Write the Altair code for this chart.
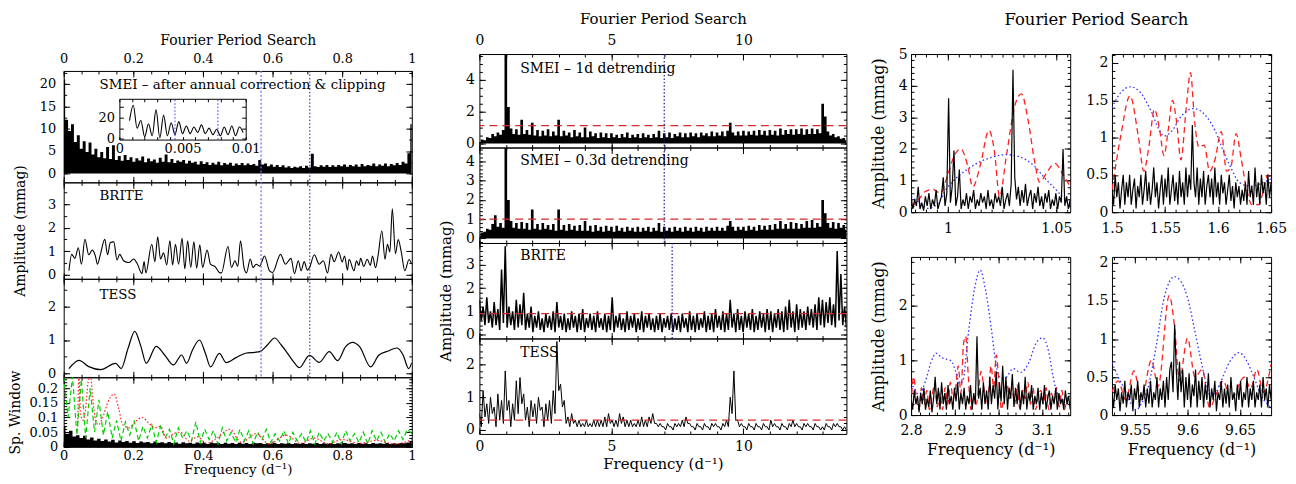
import altair as alt
import numpy as np
import pandas as pd

FONT = "DejaVu Serif"

# ======================= DATA =======================
# ---- left column (0-1 d^-1) ----
L_SMEI = [21, 12, 9.5, 11, 7, 8.5, 5.5, 7.2, 4.8, 6.9,
          4.2, 5.5, 3.6, 4.8, 3.4, 5.9, 3.2, 6.3, 3.0, 3.9,
          2.8, 4.1, 3.0, 3.6, 2.6, 3.4, 2.9, 3.8, 2.5, 3.3,
          2.7, 3.1, 2.4, 3.5, 2.6, 4.2, 2.5, 3.2, 2.3, 2.9,
          2.6, 3.0, 2.2, 2.8, 2.4, 2.6, 2.0, 2.7, 2.1, 2.5,
          1.9, 2.4, 2.0, 2.6, 1.8, 2.3, 2.0, 2.4, 1.7, 2.2,
          1.9, 2.3, 1.8, 2.2, 1.9, 2.1, 1.7, 3.0, 2.0, 2.2,
          1.6, 2.0, 1.5, 1.9, 1.4, 1.8, 1.3, 1.6, 1.2, 1.5,
          1.3, 1.6, 1.2, 1.7, 1.3, 4.4, 1.6, 1.4, 1.8, 1.5,
          1.9, 1.4, 1.8, 1.5, 1.9, 1.6, 2.0, 1.5, 1.9, 1.6,
          2.0, 1.5, 2.1, 1.6, 1.9, 1.7, 2.2, 1.6, 2.0, 1.7,
          2.2, 1.6, 2.1, 1.8, 2.3, 1.9, 2.6, 2.2, 4.5, 11]
INSET_AMP = [17, 31, 10, 17, 2, 14, 3, 27, 1, 22,
             3, 15, 4, 16, 5, 12, 5, 11, 6, 13,
             5, 10, 4, 9, 3, 11, 4, 12, 3, 11, 6]
INSET_LINES = [0.0044, 0.0078]
L_BRITE = [(0.015, 0.17), (0.023, 0.87), (0.032, 0.70), (0.042, 1.15), (0.051, 0.45), (0.061, 1.51),
           (0.072, 0.85), (0.082, 1.05), (0.091, 0.80), (0.097, 0.45), (0.106, 0.90), (0.118, 1.51),
           (0.126, 0.85), (0.134, 1.37), (0.144, 1.40), (0.153, 0.63), (0.161, 0.87), (0.172, 0.60),
           (0.187, 0.52), (0.201, 0.67), (0.211, 0.48), (0.225, 0.05), (0.231, 0.56), (0.236, 0.08),
           (0.253, 1.30), (0.262, 0.56), (0.270, 1.62), (0.278, 0.67), (0.287, 0.93), (0.296, 0.42),
           (0.305, 1.44), (0.313, 0.42), (0.321, 1.30), (0.330, 0.45), (0.340, 1.55), (0.348, 0.25),
           (0.356, 1.44), (0.365, 0.31), (0.374, 1.40), (0.382, 0.28), (0.391, 1.27), (0.399, 0.31),
           (0.412, 1.05), (0.422, 0.44), (0.435, 0.35), (0.447, 0.10), (0.453, 0.08), (0.472, 1.20),
           (0.482, 0.31), (0.492, 0.60), (0.500, 0.35), (0.508, 1.44), (0.518, 0.30), (0.525, 0.08),
           (0.536, 0.67), (0.544, 0.31), (0.553, 0.45), (0.563, 0.37), (0.577, 0.80), (0.591, 0.17),
           (0.600, 0.10), (0.623, 0.87), (0.637, 0.45), (0.653, 0.70), (0.663, 0.05), (0.674, 0.60),
           (0.682, 0.17), (0.691, 0.56), (0.700, 0.20), (0.706, 0.30), (0.720, 0.85), (0.734, 0.45),
           (0.746, 0.60), (0.758, 0.08), (0.768, 0.87), (0.777, 0.56), (0.790, 0.97), (0.800, 0.55),
           (0.807, 0.80), (0.815, 0.20), (0.820, 0.66), (0.834, 0.17), (0.841, 0.60), (0.848, 0.40),
           (0.853, 0.70), (0.862, 0.35), (0.872, 0.66), (0.881, 0.40), (0.887, 0.80), (0.896, 0.30),
           (0.903, 0.80), (0.914, 1.87), (0.923, 0.66), (0.930, 1.30), (0.937, 0.97), (0.944, 2.80),
           (0.953, 0.90), (0.961, 1.50), (0.970, 0.95), (0.980, 0.17), (0.992, 0.65), (1.000, 0.45)]
L_TESS = [(0.015, 0.14), (0.044, 0.39), (0.072, 0.20), (0.106, 0.11), (0.149, 0.30), (0.165, 0.14),
          (0.185, 0.75), (0.204, 1.26), (0.222, 0.80), (0.237, 0.30), (0.266, 0.81), (0.290, 0.55),
          (0.315, 0.25), (0.339, 0.55), (0.353, 0.30), (0.370, 0.70), (0.390, 1.00), (0.407, 0.60),
          (0.422, 0.19), (0.447, 0.60), (0.467, 0.32), (0.495, 0.47), (0.525, 0.61), (0.549, 0.63),
          (0.565, 0.66), (0.585, 0.85), (0.606, 1.06), (0.625, 0.85), (0.639, 0.66), (0.660, 0.35),
          (0.677, 0.17), (0.706, 0.54), (0.734, 0.33), (0.763, 0.65), (0.787, 0.38), (0.810, 0.80),
          (0.830, 0.93), (0.850, 0.80), (0.882, 0.19), (0.905, 0.54), (0.930, 0.66), (0.958, 0.76),
          (0.975, 0.55), (0.991, 0.14), (1.000, 0.32)]
WIN_BLACK = [70, 45, 55, 35, 40, 30, 38, 25, 32, 22,
             28, 20, 25, 18, 24, 15, 22, 17, 20, 14,
             19, 13, 18, 15, 17, 12, 18, 14, 16, 12,
             17, 13, 15, 11, 16, 12, 14, 11, 15, 12,
             14, 10, 15, 12, 13, 10, 14, 11, 13, 10,
             14, 11, 13, 10, 14, 12, 13, 10, 12, 11,
             13, 10, 12, 11, 13, 10, 12, 11, 13, 10,
             12, 11, 13, 10, 12, 11, 13, 10, 12, 11,
             13, 11, 12, 10, 13, 11, 12, 10, 13, 11,
             12, 11, 13, 10, 12, 11, 13, 12, 15, 20]
WIN_GREEN = [240, 100, 240, 40, 230, 30, 200, 50, 160, 40,
             120, 30, 90, 20, 85, 40, 90, 20, 70, 30,
             75, 15, 70, 30, 60, 10, 65, 30, 55, 20,
             85, 15, 60, 25, 55, 10, 65, 20, 50, 15,
             60, 20, 55, 10, 50, 25, 60, 15, 45, 20,
             55, 10, 50, 20, 45, 15, 55, 10, 50, 20,
             45, 15, 50, 10, 55, 20, 45, 15, 50, 10,
             55, 20, 50, 15, 45, 20, 55, 25, 60, 45]
WIN_RED = [(0.040, 0.07), (0.044, 0.24), (0.048, 0.12), (0.055, 0.09), (0.062, 0.12), (0.070, 0.22),
           (0.076, 0.26), (0.083, 0.17), (0.092, 0.09), (0.100, 0.075), (0.112, 0.10), (0.128, 0.155),
           (0.145, 0.18), (0.158, 0.13), (0.170, 0.075), (0.188, 0.065), (0.205, 0.085), (0.226, 0.10),
           (0.245, 0.08), (0.262, 0.065), (0.277, 0.07), (0.296, 0.03), (0.316, 0.045), (0.335, 0.05),
           (0.360, 0.02), (0.385, 0.035), (0.410, 0.012), (0.440, 0.03), (0.477, 0.06), (0.510, 0.015),
           (0.553, 0.045), (0.590, 0.01), (0.639, 0.04), (0.680, 0.012), (0.720, 0.03), (0.760, 0.01),
           (0.800, 0.025), (0.850, 0.012), (0.900, 0.022), (0.950, 0.01), (0.990, 0.02), (1.000, 0.025)]
L_LINES = [0.567, 0.707]

# ---- middle column (0-13.9 d^-1) ----
M_SMEI1 = [0.1, 0.25, 0.2, 0.4, 0.35, 0.6, 0.45, 0.7, 0.55, 0.85,
           5.6, 2.3, 0.95, 0.6, 0.9, 0.55, 1.5, 0.6, 0.85, 0.55,
           1.3, 0.5, 0.85, 0.45, 0.8, 0.5, 0.9, 0.45, 0.75, 0.5,
           1.5, 0.45, 0.8, 0.5, 0.7, 0.4, 0.85, 0.45, 0.7, 0.4,
           1.0, 0.4, 0.75, 0.45, 0.65, 0.35, 0.7, 0.4, 0.65, 0.35,
           0.65, 0.4, 0.55, 0.35, 0.6, 0.4, 0.7, 0.35, 0.55, 0.4,
           0.6, 0.35, 0.65, 0.4, 0.55, 0.35, 0.6, 0.4, 0.8, 0.35,
           0.65, 0.4, 0.7, 0.35, 0.6, 0.45, 0.7, 0.4, 0.65, 0.4,
           0.7, 0.45, 0.65, 0.4, 0.7, 0.5, 0.65, 0.45, 0.75, 0.45,
           0.7, 0.5, 0.75, 0.45, 0.8, 1.3, 0.7, 0.5, 0.75, 0.5,
           0.8, 0.5, 0.75, 0.55, 0.8, 0.5, 0.85, 0.55, 0.8, 0.5,
           0.85, 0.55, 0.8, 0.5, 0.95, 0.55, 0.85, 0.6, 0.9, 0.55,
           0.9, 0.6, 0.95, 0.55, 0.9, 0.6, 0.95, 0.6, 0.9, 0.65,
           2.5, 1.7, 0.75, 0.5, 0.6, 0.4, 0.45, 0.3, 0.35, 0.2]
M_SMEI03 = [0.15, 0.3, 0.35, 0.5, 0.45, 0.75, 1.2, 0.6, 0.8, 0.55,
            4.7, 2.0, 0.9, 0.55, 0.8, 0.5, 0.85, 0.5, 0.8, 0.45,
            1.5, 0.5, 0.75, 0.45, 0.8, 0.5, 0.7, 0.45, 0.75, 0.4,
            1.5, 0.45, 0.7, 0.4, 0.75, 0.45, 0.65, 0.4, 0.7, 0.4,
            0.9, 0.4, 0.65, 0.35, 0.7, 0.4, 0.6, 0.35, 0.65, 0.4,
            0.6, 0.35, 0.65, 0.4, 0.55, 0.35, 0.6, 0.4, 0.55, 0.35,
            0.6, 0.35, 0.55, 0.4, 0.6, 0.35, 0.55, 0.4, 0.8, 0.35,
            0.6, 0.4, 0.55, 0.35, 0.6, 0.4, 0.55, 0.35, 0.6, 0.4,
            0.55, 0.35, 0.6, 0.4, 0.55, 0.35, 0.6, 0.4, 0.55, 0.4,
            0.6, 0.4, 0.55, 0.4, 0.65, 0.9, 0.6, 0.4, 0.6, 0.45,
            0.6, 0.4, 0.65, 0.45, 0.6, 0.4, 0.7, 0.45, 0.65, 0.45,
            0.7, 0.45, 0.75, 0.5, 0.9, 0.5, 0.75, 0.5, 0.85, 0.5,
            0.8, 0.5, 0.75, 0.55, 0.9, 0.55, 0.95, 0.55, 0.8, 0.6,
            2.0, 1.3, 0.8, 0.55, 0.85, 0.5, 0.8, 0.55, 0.7, 0.45]
# BRITE / TESS: upper and lower excursions (tenths of mmag), alternating along frequency
M_BRITE_HI = [15, 12, 16, 10, 14, 11, 28, 38, 12, 10,
              15, 13, 18, 9, 12, 8, 10, 7, 9, 8,
              10, 14, 8, 9, 7, 10, 8, 9, 11, 7,
              9, 8, 10, 7, 9, 8, 16, 8, 9, 7,
              10, 8, 9, 7, 10, 8, 9, 7, 8, 9,
              7, 8, 9, 7, 8, 9, 7, 10, 8, 9,
              7, 10, 8, 9, 11, 8, 10, 9, 15, 9,
              11, 8, 10, 9, 11, 8, 10, 9, 11, 10,
              9, 11, 10, 12, 15, 10, 13, 11, 10, 12,
              11, 13, 16, 15, 14, 16, 13, 36, 26, 12]
M_BRITE_LO = [6, 4, 5, 3, 4, 2, 5, 3, 4, 2,
              3, 4, 2, 3, 1, 3, 2, 1, 3, 2,
              1, 3, 2, 1, 2, 3, 1, 2, 1, 3,
              2, 1, 3, 2, 1, 2, 1, 3, 2, 1,
              2, 3, 1, 2, 1, 3, 2, 1, 2, 1,
              3, 2, 1, 2, 1, 3, 1, 2, 1, 2,
              3, 1, 2, 1, 3, 2, 1, 2, 3, 1,
              2, 1, 3, 2, 1, 2, 3, 1, 2, 1,
              3, 2, 1, 2, 3, 1, 2, 3, 2, 4,
              3, 2, 4, 3, 5, 4, 3, 6, 4, 3]
M_TESS_HI = [5, 12, 8, 10, 7, 11, 9, 18, 9, 8,
             15, 16, 11, 7, 9, 8, 10, 7, 8, 9,
             12, 27, 14, 9, 4, 5, 3, 3, 2, 3,
             2, 3, 3, 3, 4, 5, 3, 3, 5, 4,
             3, 3, 2, 3, 4, 3, 4, 5, 2, 2,
             1, 2, 1, 2, 2, 3, 4, 2, 1, 2,
             1, 2, 1, 2, 2, 1, 2, 3, 10, 18,
             3, 2, 1, 2, 1, 2, 1, 2, 1, 3,
             2, 1, 2, 1, 2, 3, 2, 1, 2, 2,
             1, 2, 1, 1, 2, 1, 2, 2, 1, 1]
M_TESS_LO = [1, 4, 2, 5, 1, 3, 2, 6, 1, 3,
             5, 8, 3, 1, 4, 2, 6, 1, 3, 2,
             5, 12, 7, 2, 1, 2, 1, 1, 1, 1,
             1, 1, 1, 1, 1, 2, 1, 1, 2, 1,
             1, 1, 1, 1, 1, 1, 2, 2, 1, 1,
             0, 1, 0, 1, 1, 1, 2, 1, 0, 1,
             0, 1, 0, 1, 1, 0, 1, 1, 5, 3,
             1, 1, 0, 1, 0, 1, 0, 1, 0, 1,
             1, 0, 1, 0, 1, 1, 1, 0, 1, 1,
             0, 1, 0, 0, 1, 0, 1, 1, 0, 0]
M_LEVELS = [1.12, 1.0, 0.9, 0.3]
M_SMEI_LINE = [7.0]
M_BRITE_LINE = [7.3]

# ---- right column: zooms ----
TL_BLACK = [0.5, 0.1, 0.4, 0.2, 0.8, 0.1, 0.3, 0.05, 0.5, 0.2,
            0.6, 0.1, 0.4, 0.2, 0.7, 0.1, 0.3, 0.5, 1.1, 0.2,
            0.6, 3.6, 0.3, 0.8, 1.95, 0.2, 0.5, 1.35, 0.1, 0.4,
            0.2, 0.6, 0.1, 0.5, 0.3, 0.7, 0.1, 0.4, 0.2, 0.6,
            0.3, 0.5, 0.1, 0.7, 0.2, 0.4, 0.1, 0.6, 0.3, 0.5,
            0.2, 0.8, 0.1, 0.4, 0.6, 0.2, 0.9, 4.5, 1.1, 0.4,
            0.8, 0.2, 0.7, 0.3, 0.9, 0.2, 0.5, 0.7, 0.1, 0.6,
            0.3, 0.8, 0.2, 0.5, 0.1, 0.6, 0.3, 0.7, 0.1, 0.4,
            0.2, 0.6, 0.1, 0.5, 0.3, 2.0, 0.2, 0.5, 0.1, 0.4]
TL_RED = [(0.983, 0.15), (0.9865, 0.4), (0.9895, 0.65), (0.993, 0.72), (0.9965, 0.6), (1.0, 1.2),
          (1.003, 1.8), (1.006, 2.0), (1.009, 1.5), (1.0115, 0.8), (1.015, 1.5), (1.0189, 2.59),
          (1.0215, 1.9), (1.0238, 0.49), (1.027, 1.8), (1.031, 3.4), (1.0339, 3.74), (1.037, 2.9),
          (1.040, 1.6), (1.0423, 0.95), (1.046, 1.3), (1.0493, 1.54), (1.053, 1.2), (1.0564, 0.8)]
TL_BLUE = [(0.983, 0.5), (0.987, 0.3), (0.991, 0.12), (0.995, 0.25), (1.0, 0.8), (1.005, 1.15),
           (1.01, 1.4), (1.015, 1.6), (1.02, 1.73), (1.027, 1.82), (1.033, 1.75), (1.04, 1.45),
           (1.045, 1.05), (1.05, 0.7), (1.0564, 0.2)]
TR_BLACK = [0.3, 0.1, 0.5, 0.2, 0.4, 0.05, 0.3, 0.5, 0.1, 0.4,
            0.2, 0.5, 0.1, 0.3, 0.45, 0.05, 0.35, 0.2, 0.5, 0.1,
            0.3, 0.55, 0.15, 0.4, 0.1, 0.3, 0.6, 0.2, 0.4, 0.05,
            0.3, 0.5, 0.1, 0.45, 0.2, 0.6, 0.1, 0.3, 0.5, 0.15,
            0.4, 0.1, 0.55, 0.2, 0.4, 0.1, 0.6, 0.2, 0.5, 0.3,
            1.17, 0.4, 0.2, 0.6, 0.1, 0.45, 0.2, 0.55, 0.1, 0.35,
            0.5, 0.2, 0.45, 0.1, 0.6, 0.2, 0.4, 0.1, 0.5, 0.25,
            0.4, 0.1, 0.3, 0.5, 0.15, 0.35, 0.05, 0.4, 0.2, 0.35,
            0.1, 0.3, 0.15, 0.4, 0.1, 0.55, 0.2, 0.35, 0.1, 0.6,
            0.2, 0.4, 0.1, 0.5, 0.25, 0.4, 0.1, 0.5, 0.2, 0.4]
TR_RED = [(1.5, 0.3), (1.508, 1.0), (1.517, 1.56), (1.525, 1.0), (1.530, 0.55), (1.535, 0.9),
          (1.54, 1.38), (1.545, 1.1), (1.549, 0.76), (1.553, 1.1), (1.557, 1.5), (1.561, 1.2),
          (1.565, 0.7), (1.57, 1.4), (1.574, 1.87), (1.578, 1.2), (1.582, 0.87), (1.587, 0.9),
          (1.592, 0.55), (1.597, 0.7), (1.603, 1.08), (1.608, 0.55), (1.612, 0.6), (1.617, 1.05),
          (1.622, 0.7), (1.627, 0.3), (1.632, 0.1), (1.638, 0.1), (1.643, 0.3), (1.647, 0.5), (1.65, 0.45)]
TR_BLUE = [(1.5, 1.4), (1.508, 1.6), (1.5176, 1.68), (1.527, 1.6), (1.537, 1.35), (1.544, 1.12),
           (1.549, 1.02), (1.556, 1.08), (1.565, 1.28), (1.577, 1.39), (1.588, 1.3), (1.597, 1.1),
           (1.605, 0.82), (1.612, 0.6), (1.62, 0.4), (1.63, 0.35), (1.64, 0.38), (1.65, 0.45)]
BL_BLACK = [0.3, 0.1, 0.45, 0.2, 0.35, 0.05, 0.4, 0.2, 0.5, 0.1,
            0.3, 0.15, 0.45, 0.05, 0.3, 0.7, 0.2, 0.5, 0.1, 0.6,
            0.2, 0.4, 0.1, 0.55, 0.2, 0.35, 0.1, 0.5, 0.25, 0.6,
            0.1, 0.4, 0.2, 0.5, 0.1, 0.35, 0.2, 0.55, 0.1, 0.4,
            0.2, 1.44, 0.3, 0.5, 0.1, 0.6, 0.2, 0.45, 0.1, 0.7,
            0.2, 0.55, 0.3, 0.8, 0.1, 0.6, 0.25, 0.9, 0.2, 0.7,
            0.1, 0.5, 0.3, 0.75, 0.15, 0.5, 0.2, 0.6, 0.1, 0.45,
            0.2, 0.7, 0.1, 0.4, 0.25, 0.55, 0.1, 0.35, 0.2, 0.5,
            0.1, 0.4, 0.2, 0.55, 0.1, 0.3, 0.45, 0.1, 0.35, 0.2,
            0.5, 0.1, 0.4, 0.2, 0.3, 0.1, 0.45, 0.2, 0.35, 0.1]
BL_RED = [(2.8, 0.2), (2.806, 0.7), (2.812, 0.3), (2.818, 0.1), (2.824, 0.5), (2.83, 0.2),
          (2.836, 0.45), (2.842, 0.1), (2.848, 0.35), (2.854, 0.55), (2.86, 0.15), (2.866, 0.4),
          (2.872, 0.1), (2.878, 0.5), (2.884, 0.2), (2.89, 0.6), (2.896, 0.3), (2.902, 0.5),
          (2.908, 0.9), (2.914, 0.4), (2.92, 1.3), (2.925, 1.44), (2.931, 0.7), (2.937, 0.1),
          (2.943, 0.3), (2.949, 0.2), (2.955, 0.5), (2.96, 0.8), (2.965, 0.6), (2.971, 0.2),
          (2.977, 0.4), (2.983, 0.9), (2.989, 0.5), (2.995, 1.1), (3.001, 0.6), (3.007, 0.1),
          (3.013, 0.4), (3.019, 0.6), (3.025, 0.3), (3.031, 0.5), (3.037, 0.2), (3.043, 0.55),
          (3.049, 0.1), (3.055, 0.45), (3.061, 0.3), (3.067, 0.6), (3.073, 0.2), (3.079, 0.5),
          (3.085, 0.1), (3.091, 0.35), (3.097, 0.45), (3.103, 0.2), (3.109, 0.5), (3.115, 0.1),
          (3.121, 0.4), (3.127, 0.25), (3.133, 0.5), (3.139, 0.15), (3.145, 0.45), (3.151, 0.1),
          (3.157, 0.3), (3.164, 0.35)]
BL_BLUE = [(2.8, 0.6), (2.818, 0.38), (2.833, 0.62), (2.845, 0.95), (2.857, 1.13), (2.87, 1.05),
           (2.881, 1.02), (2.892, 0.99), (2.902, 0.8), (2.911, 0.58), (2.918, 0.62), (2.932, 1.56),
           (2.945, 2.3), (2.958, 2.65), (2.97, 2.3), (2.983, 1.62), (2.993, 1.0), (3.002, 0.7),
           (3.015, 0.68), (3.034, 0.85), (3.05, 0.78), (3.07, 0.97), (3.085, 1.3), (3.101, 1.41),
           (3.115, 1.15), (3.125, 0.7), (3.133, 0.42), (3.145, 0.25), (3.164, 0.2)]
BR_BLACK = [0.3, 0.1, 0.4, 0.2, 0.35, 0.05, 0.3, 0.15, 0.45, 0.1,
            0.3, 0.2, 0.4, 0.05, 0.35, 0.2, 0.45, 0.1, 0.3, 0.2,
            0.4, 0.1, 0.35, 0.15, 0.45, 0.1, 0.3, 0.2, 0.5, 0.1,
            0.35, 0.2, 0.45, 0.1, 0.5, 0.2, 0.6, 0.7, 0.3, 1.19,
            0.6, 0.2, 0.7, 0.3, 0.6, 0.1, 0.5, 0.2, 0.55, 0.1,
            0.4, 0.25, 0.6, 0.1, 0.45, 0.2, 0.5, 0.1, 0.4, 0.2,
            0.55, 0.1, 0.35, 0.2, 0.45, 0.05, 0.3, 0.2, 0.45, 0.1,
            0.35, 0.15, 0.4, 0.1, 0.5, 0.2, 0.3, 0.05, 0.4, 0.2,
            0.45, 0.1, 0.3, 0.2, 0.5, 0.1, 0.35, 0.2, 0.45, 0.1,
            0.3, 0.2, 0.4, 0.1, 0.5, 0.2, 0.35, 0.1, 0.4, 0.2]
BR_RED = [(9.528, 0.3), (9.534, 0.45), (9.541, 0.2), (9.549, 0.58), (9.556, 0.2), (9.5655, 0.72),
          (9.572, 0.38), (9.5825, 1.57), (9.588, 1.1), (9.592, 0.45), (9.6, 1.01), (9.607, 0.5),
          (9.614, 0.6), (9.621, 0.1), (9.628, 0.3), (9.634, 0.45), (9.641, 0.2), (9.654, 0.5),
          (9.66, 0.35), (9.666, 0.6), (9.672, 0.3), (9.6795, 0.67)]
BR_BLUE = [(9.528, 0.69), (9.534, 0.5), (9.540, 0.34), (9.546, 0.15), (9.551, 0.07), (9.556, 0.15),
           (9.563, 0.4), (9.57, 0.9), (9.578, 1.56), (9.5875, 1.82), (9.594, 1.75), (9.6, 1.54),
           (9.607, 1.1), (9.613, 0.7), (9.618, 0.4), (9.622, 0.25), (9.627, 0.3), (9.632, 0.45),
           (9.64, 0.7), (9.649, 0.82), (9.656, 0.72), (9.662, 0.54), (9.67, 0.26), (9.6795, 0.1)]

# tick labels
L_XT = [0, 0.2, 0.4, 0.6, 0.8, 1]
L1_YT = [0, 5, 10, 15, 20]
L2_YT = [0, 1, 2, 3]
L3_YT = [0, 1, 2]
L4_YT = [0, 0.05, 0.1, 0.15, 0.2]
IN_XT = [0, 0.005, 0.01]
IN_YT = [0, 20]
M_XT = [0, 5, 10]
M1_YT = [0, 2, 4]
M2_YT = [0, 1, 2, 3, 4]
M3_YT = [0, 1, 2, 3]
M4_YT = [0, 1, 2]
TL_XT = [1, 1.05]
TL_YT = [0, 1, 2, 3, 4, 5]
TR_XT = [1.5, 1.55, 1.6, 1.65]
TR_YT = [0, 0.5, 1, 1.5, 2]
BL_XT = [2.8, 2.9, 3, 3.1]
BL_YT = [0, 1, 2]
BR_XT = [9.55, 9.6, 9.65]
BR_YT = [0, 0.5, 1, 1.5, 2]

# ======================= HELPERS =======================
def S(dom, rng=None):
    if rng is None:
        return alt.Scale(domain=list(dom), nice=False, zero=False)
    return alt.Scale(domain=list(dom), range=list(rng), nice=False, zero=False)


def XQ(field, d, r=None):
    return alt.X(field, type="quantitative", scale=S(d, r), axis=None)


def YQ(field, d, r=None):
    return alt.Y(field, type="quantitative", scale=S(d, r), axis=None)


def minor(lo, hi, step):
    n0 = int(np.ceil(lo / step - 1e-9))
    n1 = int(np.floor(hi / step + 1e-9))
    return [round(k * step, 6) for k in range(n0, n1 + 1)]


def lbl_axis(orient, values, pad, title=None, tpad=0, fs=13, tfs=14, offset=0, domain=False):
    return alt.Axis(orient=orient, values=values, ticks=False, domain=domain, domainColor="black",
                    domainWidth=1, grid=False, labelPadding=pad, labelFontSize=fs, labelFlush=False,
                    labelOverlap=False, labelExpr="datum.value + ''", labelColor="black", labelFont=FONT,
                    title=title, titlePadding=tpad, titleFontSize=tfs, titleFont=FONT,
                    titleFontWeight="normal", titleColor="black", offset=offset)


def dom_axis(orient, offset):
    return alt.Axis(orient=orient, values=[0], labels=False, ticks=False, domain=True,
                    domainColor="black", domainWidth=1, grid=False, title=None, offset=offset)


def tick_axis(orient, values, size, base=0):
    return alt.Axis(orient=orient, values=values, labels=False, domain=False, grid=False,
                    ticks=True, tickSize=size, offset=-(base + size), tickColor="black",
                    tickWidth=1, title=None)


def helper(xd, yd, xaxis, yaxis, xr=None, yr=None):
    df = pd.DataFrame({"x": [xd[0]], "y": [yd[0]]})
    return alt.Chart(df).mark_point(opacity=0).encode(
        x=alt.X("x:Q", scale=S(xd, xr), axis=xaxis),
        y=alt.Y("y:Q", scale=S(yd, yr), axis=yaxis))


def curve(f, a, xd, yd, color="black", width=1.0, dash=None, interp="linear", xr=None, yr=None):
    df = pd.DataFrame({"f": list(f), "a": list(a)})
    kw = dict(color=color, strokeWidth=width, clip=True, interpolate=interp)
    if dash is not None:
        kw["strokeDash"] = dash
    return alt.Chart(df).mark_line(**kw).encode(x=XQ("f", xd, xr), y=YQ("a", yd, yr))


def pairs(p):
    return [q[0] for q in p], [q[1] for q in p]


def filled(f, a, xd, yd, interp="linear"):
    df = pd.DataFrame({"f": list(f), "a": list(a)})
    return alt.Chart(df).mark_area(color="black", clip=True, opacity=1, interpolate=interp).encode(
        x=XQ("f", xd), y=YQ("a", yd), y2=alt.datum(0))


def vrules(vals, xd, color, dash, width=1.0):
    return alt.Chart(pd.DataFrame({"f": vals})).mark_rule(
        color=color, strokeDash=dash, strokeWidth=width).encode(x=XQ("f", xd))


def hrules(vals, yd, color, dash, width=1.2):
    return alt.Chart(pd.DataFrame({"a": vals})).mark_rule(
        color=color, strokeDash=dash, strokeWidth=width).encode(y=YQ("a", yd))


def label(txt, px, py, fs=13.5):
    return alt.Chart(pd.DataFrame({"t": [txt]})).mark_text(
        align="left", baseline="middle", font=FONT, fontSize=fs, color="black").encode(
        x=alt.value(px), y=alt.value(py), text="t:N")


def zigzag(hi, lo):
    out = []
    for h, l in zip(hi, lo):
        out += [h / 10.0, l / 10.0]
    return out


def panel(w, h, xd, yd, xmaj, xmin, ymaj, ymin, layers, bottom=None, left=None, top=None,
          ts=6, ts2=3):
    hl = [helper(xd, yd, lbl_axis("bottom", **bottom) if bottom else None,
                 lbl_axis("left", **left) if left else None),
          helper(xd, yd, tick_axis("bottom", xmaj, ts), tick_axis("left", ymaj, ts)),
          helper(xd, yd, tick_axis("bottom", xmin, ts2), tick_axis("left", ymin, ts2)),
          helper(xd, yd, tick_axis("top", xmaj, ts), tick_axis("right", ymaj, ts)),
          helper(xd, yd, tick_axis("top", xmin, ts2), tick_axis("right", ymin, ts2))]
    if top:
        hl.append(helper(xd, yd, lbl_axis("top", **top), None))
    return alt.layer(*layers, *hl).resolve_scale(x="independent", y="independent").properties(
        width=w, height=h)


RED = "#ff1f1f"
BLUE = "#2f2fff"
MRED = "#d42a2a"
NAVY = "#1a1a8c"

# ======================= LEFT COLUMN =======================
LW = 350
LH = [112, 97, 99, 70]
LXD = (0, 1)
lxmin = minor(0, 1, 0.05)

# panel 1 with inset
Y1 = (-2, 22.9)
IXD = (0, 0.01)
IYD = (-0.5, 37)
IXR = [56, 183]
IYR = [69, 28]
inset_f = np.linspace(0.0008, 0.0098, len(INSET_AMP))
inset_layers = [
    curve(inset_f, INSET_AMP, IXD, IYD, width=1.1, interp="monotone", xr=IXR, yr=IYR),
    alt.Chart(pd.DataFrame({"f": INSET_LINES, "y0": IYD[0], "y1": IYD[1]})).mark_rule(
        color=BLUE, strokeDash=[1.5, 2], strokeWidth=1).encode(
        x=XQ("f", IXD, IXR), y=YQ("y0", IYD, IYR), y2="y1:Q"),
    helper(IXD, IYD,
           lbl_axis("bottom", IN_XT, 3, offset=-(LH[0] - IYR[0]), domain=True),
           lbl_axis("left", IN_YT, 5, offset=-IXR[0], domain=True), IXR, IYR),
    helper(IXD, IYD, dom_axis("top", -IYR[1]), dom_axis("right", -(LW - IXR[1])), IXR, IYR),
    helper(IXD, IYD, tick_axis("bottom", minor(0, 0.01, 0.001), 3, base=LH[0] - IYR[0]),
           tick_axis("left", minor(0, 37, 10), 4, base=IXR[0]), IXR, IYR),
    helper(IXD, IYD, tick_axis("top", minor(0, 0.01, 0.001), 3, base=IYR[1]),
           tick_axis("right", minor(0, 37, 10), 4, base=LW - IXR[1]), IXR, IYR),
]
P1 = panel(LW, LH[0], LXD, Y1, L_XT, lxmin, L1_YT, minor(Y1[0], Y1[1], 2.5),
           [filled(np.linspace(0, 1, len(L_SMEI)), L_SMEI, LXD, Y1, "step"),
            vrules(L_LINES[:1], LXD, "#6f6fff", [2, 2], 1.3),
            vrules(L_LINES[1:], LXD, "#1010c0", [1.5, 2], 1.0),
            label("SMEI \u2013 after annual correction & clipping", 36, 14)] + inset_layers,
           left=dict(values=L1_YT, pad=8),
           top=dict(values=L_XT, pad=5, title="Fourier Period Search", tpad=6))

Y2 = (-0.17, 3.93)
bf, ba = pairs(L_BRITE)
P2 = panel(LW, LH[1], LXD, Y2, L_XT, lxmin, L2_YT, minor(Y2[0], Y2[1], 0.5),
           [curve(bf, ba, LXD, Y2, width=1.1, interp="monotone"),
            vrules(L_LINES[:1], LXD, "#6f6fff", [2, 2], 1.3),
            vrules(L_LINES[1:], LXD, "#1010c0", [1.5, 2], 1.0),
            label("BRITE", 36, 14)],
           left=dict(values=L2_YT, pad=8, title="Amplitude (mmag)", tpad=20))

Y3 = (-0.12, 2.84)
tf, ta = pairs(L_TESS)
P3 = panel(LW, LH[2], LXD, Y3, L_XT, lxmin, L3_YT, minor(Y3[0], Y3[1], 0.5),
           [curve(tf, ta, LXD, Y3, width=1.2, interp="monotone"),
            vrules(L_LINES[:1], LXD, "#6f6fff", [2, 2], 1.3),
            vrules(L_LINES[1:], LXD, "#1010c0", [1.5, 2], 1.0),
            label("TESS", 36, 16)],
           left=dict(values=L3_YT, pad=8))

Y4 = (0, 0.237)
rf, ra = pairs(WIN_RED)
P4 = panel(LW, LH[3], LXD, Y4, L_XT, lxmin, L4_YT, minor(Y4[0], Y4[1], 0.01),
           [filled(np.linspace(0, 1, len(WIN_BLACK)), [v / 1000.0 for v in WIN_BLACK], LXD, Y4, "step"),
            curve(np.linspace(0, 1, len(WIN_GREEN)), [v / 1000.0 for v in WIN_GREEN], LXD, Y4,
                  color="#00d000", width=1.2, dash=[5, 3]),
            curve(rf, ra, LXD, Y4, color=RED, width=1.2, dash=[1.5, 2], interp="monotone")],
           left=dict(values=L4_YT, pad=6, title="Sp. Window", tpad=6),
           bottom=dict(values=L_XT, pad=3, title="Frequency (d\u207b\u00b9)", tpad=0, tfs=13.5))

spacer = alt.Chart(pd.DataFrame({"v": [0]})).mark_point(opacity=0).encode(
    x=alt.value(0), y=alt.value(0)).properties(
    width=LW, height=17, view=alt.ViewBackground(stroke="transparent"))

left_col = alt.vconcat(spacer, P1, P2, P3, P4, spacing=0, bounds="flush")

# ======================= MIDDLE COLUMN =======================
MW = 369
MH = [94, 96, 96, 96]
MXD = (0, 13.9)
mxmin = minor(0, 13.9, 1)
mgrid = np.linspace(0, 13.9, len(M_SMEI1))
zgrid = np.linspace(0, 13.9, 2 * len(M_BRITE_HI))

MY1 = (-0.25, 5.62)
M1 = panel(MW, MH[0], MXD, MY1, M_XT, mxmin, M1_YT, minor(MY1[0], MY1[1], 0.5),
           [filled(mgrid, M_SMEI1, MXD, MY1, "step"),
            hrules(M_LEVELS[:1], MY1, MRED, [8, 5]),
            vrules(M_SMEI_LINE, MXD, NAVY, [1.5, 2], 1.2),
            label("SMEI \u2013 1d detrending", 41, 15, 14)],
           left=dict(values=M1_YT, pad=5, fs=14),
           top=dict(values=M_XT, pad=7, title="Fourier Period Search", tpad=7, fs=14, tfs=15))

MY2 = (-0.24, 4.72)
M2 = panel(MW, MH[1], MXD, MY2, M_XT, mxmin, M2_YT, minor(MY2[0], MY2[1], 0.2),
           [filled(mgrid, M_SMEI03, MXD, MY2, "step"),
            hrules(M_LEVELS[1:2], MY2, MRED, [8, 5]),
            vrules(M_SMEI_LINE, MXD, NAVY, [1.5, 2], 1.2),
            label("SMEI \u2013 0.3d detrending", 41, 14, 14)],
           left=dict(values=M2_YT, pad=5, fs=14))

MY3 = (-0.17, 3.94)
M3 = panel(MW, MH[2], MXD, MY3, M_XT, mxmin, M3_YT, minor(MY3[0], MY3[1], 0.2),
           [curve(zgrid, zigzag(M_BRITE_HI, M_BRITE_LO), MXD, MY3, width=1.5),
            hrules(M_LEVELS[2:3], MY3, MRED, [8, 5]),
            vrules(M_BRITE_LINE, MXD, NAVY, [1.5, 2], 1.2),
            label("BRITE", 41, 13, 14)],
           left=dict(values=M3_YT, pad=5, fs=14, title="Amplitude (mmag)", tpad=12.5, tfs=15))

MY4 = (-0.12, 2.79)
M4 = panel(MW, MH[3], MXD, MY4, M_XT, mxmin, M4_YT, minor(MY4[0], MY4[1], 0.2),
           [curve(zgrid, zigzag(M_TESS_HI, M_TESS_LO), MXD, MY4, width=1.0),
            hrules(M_LEVELS[3:4], MY4, MRED, [8, 5]),
            label("TESS", 41, 15, 14)],
           left=dict(values=M4_YT, pad=5, fs=14),
           bottom=dict(values=M_XT, pad=6, title="Frequency (d\u207b\u00b9)", tpad=3, fs=14, tfs=15))

mid_col = alt.vconcat(M1, M2, M3, M4, spacing=0, bounds="flush")

# ======================= RIGHT COLUMN =======================
RW = 160
RH = 159


def zoom_panel(xd, yd, black, red, blue, xt, yt, xmin_step, ymin_step, ytitle=None, xtitle=None):
    rf_, ra_ = pairs(red)
    bf_, ba_ = pairs(blue)
    layers = [curve(rf_, ra_, xd, yd, color=RED, width=1.3, dash=[6, 4], interp="monotone"),
              curve(bf_, ba_, xd, yd, color=BLUE, width=1.3, dash=[1.5, 2.5], interp="monotone"),
              curve(np.linspace(xd[0], xd[1], len(black)), black, xd, yd, width=1.2)]
    left = dict(values=yt, pad=4, fs=14, tfs=16)
    if ytitle:
        left.update(title=ytitle, tpad=12)
    bottom = dict(values=xt, pad=9, fs=14, tfs=16)
    if xtitle:
        bottom.update(title=xtitle, tpad=4)
    return panel(RW, RH, xd, yd, xt, minor(xd[0], xd[1], xmin_step), yt,
                 minor(yd[0], yd[1], ymin_step), layers, bottom=bottom, left=left)


TL = zoom_panel((0.983, 1.0564), (0, 5), TL_BLACK, TL_RED, TL_BLUE, TL_XT, TL_YT, 0.005, 0.2,
                ytitle="Amplitude (mmag)")
TR = zoom_panel((1.5, 1.65), (0, 2.12), TR_BLACK, TR_RED, TR_BLUE, TR_XT, TR_YT, 0.01, 0.1)
BL = zoom_panel((2.8, 3.164), (0, 2.89), BL_BLACK, BL_RED, BL_BLUE, BL_XT, BL_YT, 0.02, 0.2,
                ytitle="Amplitude (mmag)", xtitle="Frequency (d\u207b\u00b9)")
BR = zoom_panel((9.528, 9.6795), (0, 2.08), BR_BLACK, BR_RED, BR_BLUE, BR_XT, BR_YT, 0.01, 0.1,
                xtitle="Frequency (d\u207b\u00b9)")

right_col = alt.concat(TL, TR, BL, BR, columns=2, spacing={"row": 45, "column": 42},
                       bounds="flush",
                       title=alt.TitleParams("Fourier Period Search", anchor="middle", fontSize=16.5,
                                             font=FONT, fontWeight="normal", color="black",
                                             offset=18, dx=18))

chart = alt.hconcat(left_col, mid_col, right_col, spacing=21).configure(
    font=FONT, padding={"left": 0, "top": 1, "right": 0, "bottom": 0}
).configure_view(stroke="black", strokeWidth=1).configure_axis(
    labelFont=FONT, titleFont=FONT, labelColor="black", titleColor="black", grid=False
).configure_title(font=FONT, fontWeight="normal")

chart.save("out.html", embed_options={"renderer": "svg", "actions": False})
